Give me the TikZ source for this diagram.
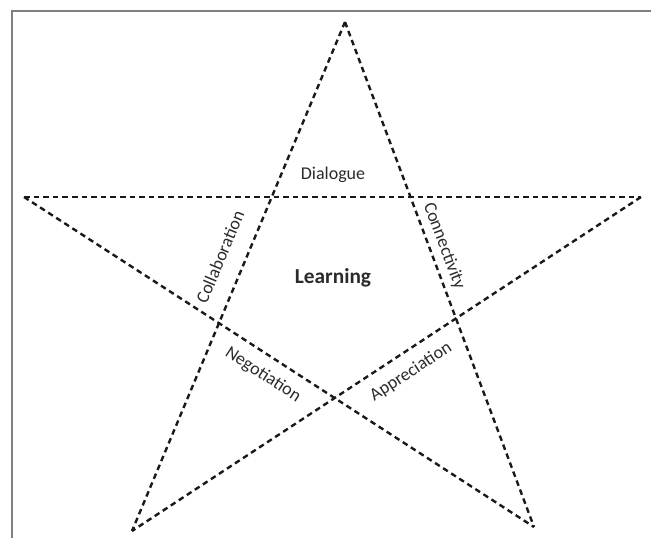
\documentclass[tikz,border=0pt]{standalone}
\usepackage{fontspec}
\setmainfont{Carlito}
\definecolor{txt}{HTML}{2B2B2B}
\definecolor{frame}{HTML}{808080}
\tikzset{
  starline/.style={line width=1.8pt, dash pattern=on 4.2pt off 3pt, color=black!90},
  lbl/.style={font=\fontsize{13.5}{16}\selectfont, text=txt, inner sep=0pt},
  framel/.style={line width=1.5pt, color=frame}
}
\begin{document}
\begin{tikzpicture}[x=0.75pt,y=-0.75pt]
\useasboundingbox (0,0) rectangle (651,538);
\coordinate (fl) at (12,538);
\coordinate (ftl) at (12,11);
\coordinate (fr) at (651,11);
\draw[framel] (fl) -- (ftl) -- (fr);
\coordinate (T) at (345,22);
\coordinate (L) at (24,197);
\coordinate (R) at (641,197);
\coordinate (BL) at (132,531);
\coordinate (BR) at (534,527);
\draw[starline] (T) -- (BL);
\draw[starline] (T) -- (BR);
\draw[starline] (L) -- (R);
\draw[starline] (L) -- (BR);
\draw[starline] (R) -- (BL);
\node[lbl] (dia) at (333,175) {Dialogue};
\node[lbl, font=\fontsize{16}{19}\selectfont\bfseries] (lea) at (333,278) {Learning};
\node[lbl, rotate=67.2] (col) at (220,257) {Collaboration};
\node[lbl, rotate=-69.4] (con) at (444,246) {Connectivity};
\node[lbl, rotate=-32.9] (neg) at (263,375) {Negotiation};
\node[lbl, rotate=33.2] (app) at (411,372) {Appreciation};
\end{tikzpicture}
\end{document}
